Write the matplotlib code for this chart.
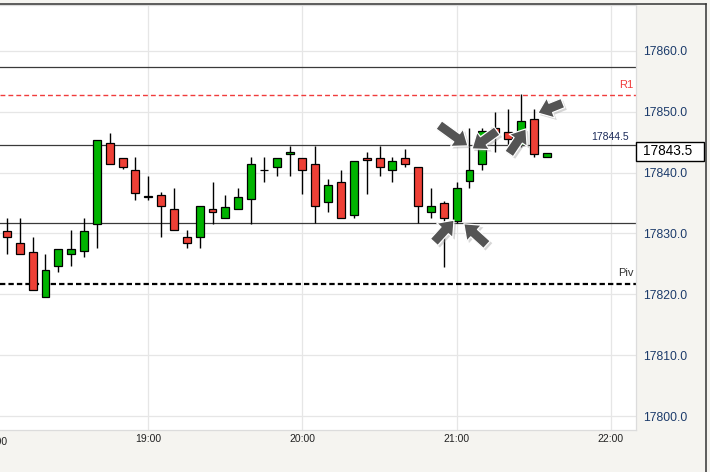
import matplotlib
matplotlib.use('Agg')
import matplotlib.pyplot as plt
import matplotlib.transforms as mtransforms
import matplotlib.patheffects as pe
from matplotlib.patches import Rectangle
from matplotlib.lines import Line2D

plt.rcParams['font.family'] = ['Liberation Sans', 'DejaVu Sans']

# 5 minute candles
times = ['18:05', '18:10', '18:15', '18:20', '18:25', '18:30', '18:35', '18:40',
         '18:45', '18:50', '18:55', '19:00', '19:05', '19:10', '19:15', '19:20',
         '19:25', '19:30', '19:35', '19:40', '19:45', '19:50', '19:55', '20:00',
         '20:05', '20:10', '20:15', '20:20', '20:25', '20:30', '20:35', '20:40',
         '20:45', '20:50', '20:55', '21:00', '21:05', '21:10', '21:15', '21:20',
         '21:25', '21:30', '21:35']
opens = [17830.4, 17828.4, 17826.9, 17819.6, 17824.6, 17826.6, 17827.1, 17831.6,
         17844.8, 17842.4, 17840.4, 17836.0, 17836.4, 17834.0, 17829.4, 17829.5,
         17834.0, 17832.5, 17834.1, 17835.6, 17840.4, 17841.0, 17843.0, 17842.4,
         17841.4, 17835.1, 17838.4, 17833.1, 17842.4, 17842.4, 17840.5, 17842.4,
         17840.9, 17833.6, 17835.0, 17832.0, 17838.6, 17841.5, 17847.3, 17846.7,
         17844.5, 17848.9, 17842.5]
highs = [17832.5, 17832.5, 17829.5, 17826.6, 17827.4, 17830.5, 17832.5, 17845.3,
         17846.5, 17842.4, 17842.5, 17839.4, 17836.9, 17837.4, 17830.5, 17834.5,
         17838.5, 17836.4, 17837.4, 17842.5, 17842.5, 17842.4, 17844.4, 17842.4,
         17844.4, 17838.9, 17840.4, 17841.9, 17843.4, 17844.4, 17842.5, 17843.9,
         17840.9, 17837.4, 17835.4, 17838.4, 17847.4, 17847.4, 17849.9, 17850.4,
         17852.9, 17850.5, 17843.3]
lows = [17826.6, 17826.6, 17820.7, 17819.6, 17823.6, 17824.6, 17826.1, 17827.6,
        17841.5, 17840.6, 17835.5, 17835.5, 17829.5, 17830.5, 17827.6, 17827.6,
        17831.5, 17832.5, 17834.1, 17831.5, 17838.5, 17839.5, 17839.5, 17836.5,
        17831.7, 17833.6, 17832.5, 17832.6, 17836.5, 17839.5, 17838.5, 17841.0,
        17831.7, 17832.6, 17824.5, 17831.7, 17837.4, 17840.4, 17843.4, 17843.4,
        17844.2, 17842.6, 17842.5]
closes = [17829.5, 17826.6, 17820.7, 17824.0, 17827.4, 17827.4, 17830.4, 17845.3,
          17841.5, 17841.0, 17836.6, 17836.0, 17834.5, 17830.5, 17828.5, 17834.5,
          17833.6, 17834.3, 17836.0, 17841.4, 17840.4, 17842.4, 17843.4, 17840.5,
          17834.5, 17837.9, 17832.5, 17841.9, 17842.0, 17841.0, 17841.9, 17841.5,
          17834.5, 17834.5, 17832.5, 17837.4, 17840.4, 17846.8, 17846.5, 17845.5,
          17848.5, 17843.0, 17843.3]

levels = [17857.4, 17844.5, 17831.7]
r1 = 17852.8
piv = 17821.7
last_price = 17843.5

price_ticks = [17800, 17810, 17820, 17830, 17840, 17850, 17860]
hour_labels = ['18:00', '19:00', '20:00', '21:00', '22:00']

# arrows: where they point (time, price) and tail offset in pixels
arrow_times = ['21:04.4', '21:06', '21:27', '21:31.6', '20:59', '21:02.8']
arrow_prices = [17844.4, 17843.9, 17847.2, 17849.8, 17832.2, 17831.6]
arrow_tails = [(-29, 21), (25, 18), (-17, -25), (25, 10), (-20, -22), (23, -21)]

GREEN = '#00b400'
RED = '#ee4036'


def to_minutes(label):
    h, m = label.split(':')
    return (int(h) - 18) * 60 + float(m)


fig = plt.figure(figsize=(7.1, 4.72), dpi=100, facecolor='#f5f4f0')
ax = fig.add_axes([0.0, 42 / 472, 636 / 710, 425 / 472])
ax.set_facecolor('white')

ax.set_xlim(2.3, 249.8)
ax.set_ylim(17797.7, 17867.56)

ax.set_yticks(price_ticks)
ax.set_yticklabels([f'{v:.1f}' for v in price_ticks])
ax.yaxis.tick_right()
ax.tick_params(axis='y', length=0, pad=4.8, labelsize=8.8, labelcolor='#1c3b6b')

hour_pos = [to_minutes(h) for h in hour_labels]
ax.set_xticks(hour_pos[1:])
ax.set_xticklabels(hour_labels[1:])
ax.tick_params(axis='x', length=0, pad=3, labelsize=7.5, labelcolor='#222222')
ax.text(hour_pos[0], -0.017, hour_labels[0], transform=ax.get_xaxis_transform(),
        ha='center', va='top', fontsize=7.5, color='#222222')

ax.grid(True, color='#e6e6e6', lw=0.9, zorder=0)
ax.set_axisbelow(True)
for s in ax.spines.values():
    s.set_color('#dcdcdc')
    s.set_linewidth(0.9)
ax.spines['left'].set_visible(False)

# support / resistance lines
for lv in levels:
    ax.axhline(lv, color='#3a3a3a', lw=0.9, zorder=2)
ax.axhline(r1, color='#f03c3c', lw=1.0, dashes=(3.5, 2.2), zorder=2)
ax.axhline(piv, color='black', lw=1.6, dashes=(2.4, 1.4), zorder=2)

ax.annotate('R1', xy=(1.0, r1), xycoords=ax.get_yaxis_transform(),
            xytext=(-3, 10), textcoords='offset pixels', ha='right', va='center',
            fontsize=8, color='#f03c3c')
ax.annotate(f'{levels[1]:.1f}', xy=(1.0, levels[1]), xycoords=ax.get_yaxis_transform(),
            xytext=(-7, 8), textcoords='offset pixels', ha='right', va='center',
            fontsize=7.5, color='#1c2b5a')
ax.annotate('Piv', xy=(1.0, piv), xycoords=ax.get_yaxis_transform(),
            xytext=(-2, 11), textcoords='offset pixels', ha='right', va='center',
            fontsize=8, color='#333333')

# candles
w = 3.1
for t, o, h, l, c in zip(times, opens, highs, lows, closes):
    x = to_minutes(t)
    color = GREEN if c >= o else RED
    ax.vlines(x, l, h, color='black', lw=1.0, zorder=3)
    body = max(abs(c - o), 0.12)
    ax.add_patch(Rectangle((x - w / 2, min(o, c)), w, body, facecolor=color,
                           edgecolor='black', lw=0.9, zorder=4))

# last price box
trans = mtransforms.blended_transform_factory(ax.transAxes, ax.transData)
ax.add_patch(Rectangle((1.0, last_price - 1.51), 67.5 / 636, 3.02, transform=trans,
                       facecolor='white', edgecolor='black', lw=1.0, clip_on=False,
                       zorder=5))
ax.text(1.0 + 7 / 636, last_price, f'{last_price:.1f}', transform=trans,
        ha='left', va='center', fontsize=9.8, color='black', zorder=6)

# arrows
for t, p, tail in zip(arrow_times, arrow_prices, arrow_tails):
    ax.annotate('', xy=(to_minutes(t), p), xytext=tail, textcoords='offset pixels',
                arrowprops=dict(arrowstyle='simple,head_length=1.0,head_width=1.55,tail_width=0.72',
                                mutation_scale=10, fc='#545454', ec='white', lw=0.9,
                                shrinkA=0, shrinkB=0,
                                path_effects=[pe.withSimplePatchShadow(offset=(1.5, -1.5),
                                                                       shadow_rgbFace='#9a9a9a',
                                                                       alpha=0.4)]),
                zorder=7)

# outer frame
fig.add_artist(Line2D([0, 705.5 / 710], [1 - 3.5 / 472] * 2, color='#333333', lw=1.1,
                      transform=fig.transFigure))
fig.add_artist(Line2D([705.5 / 710] * 2, [0, 1 - 3.5 / 472], color='#333333', lw=1.1,
                      transform=fig.transFigure))

plt.savefig('out.png', dpi=100, facecolor=fig.get_facecolor())
